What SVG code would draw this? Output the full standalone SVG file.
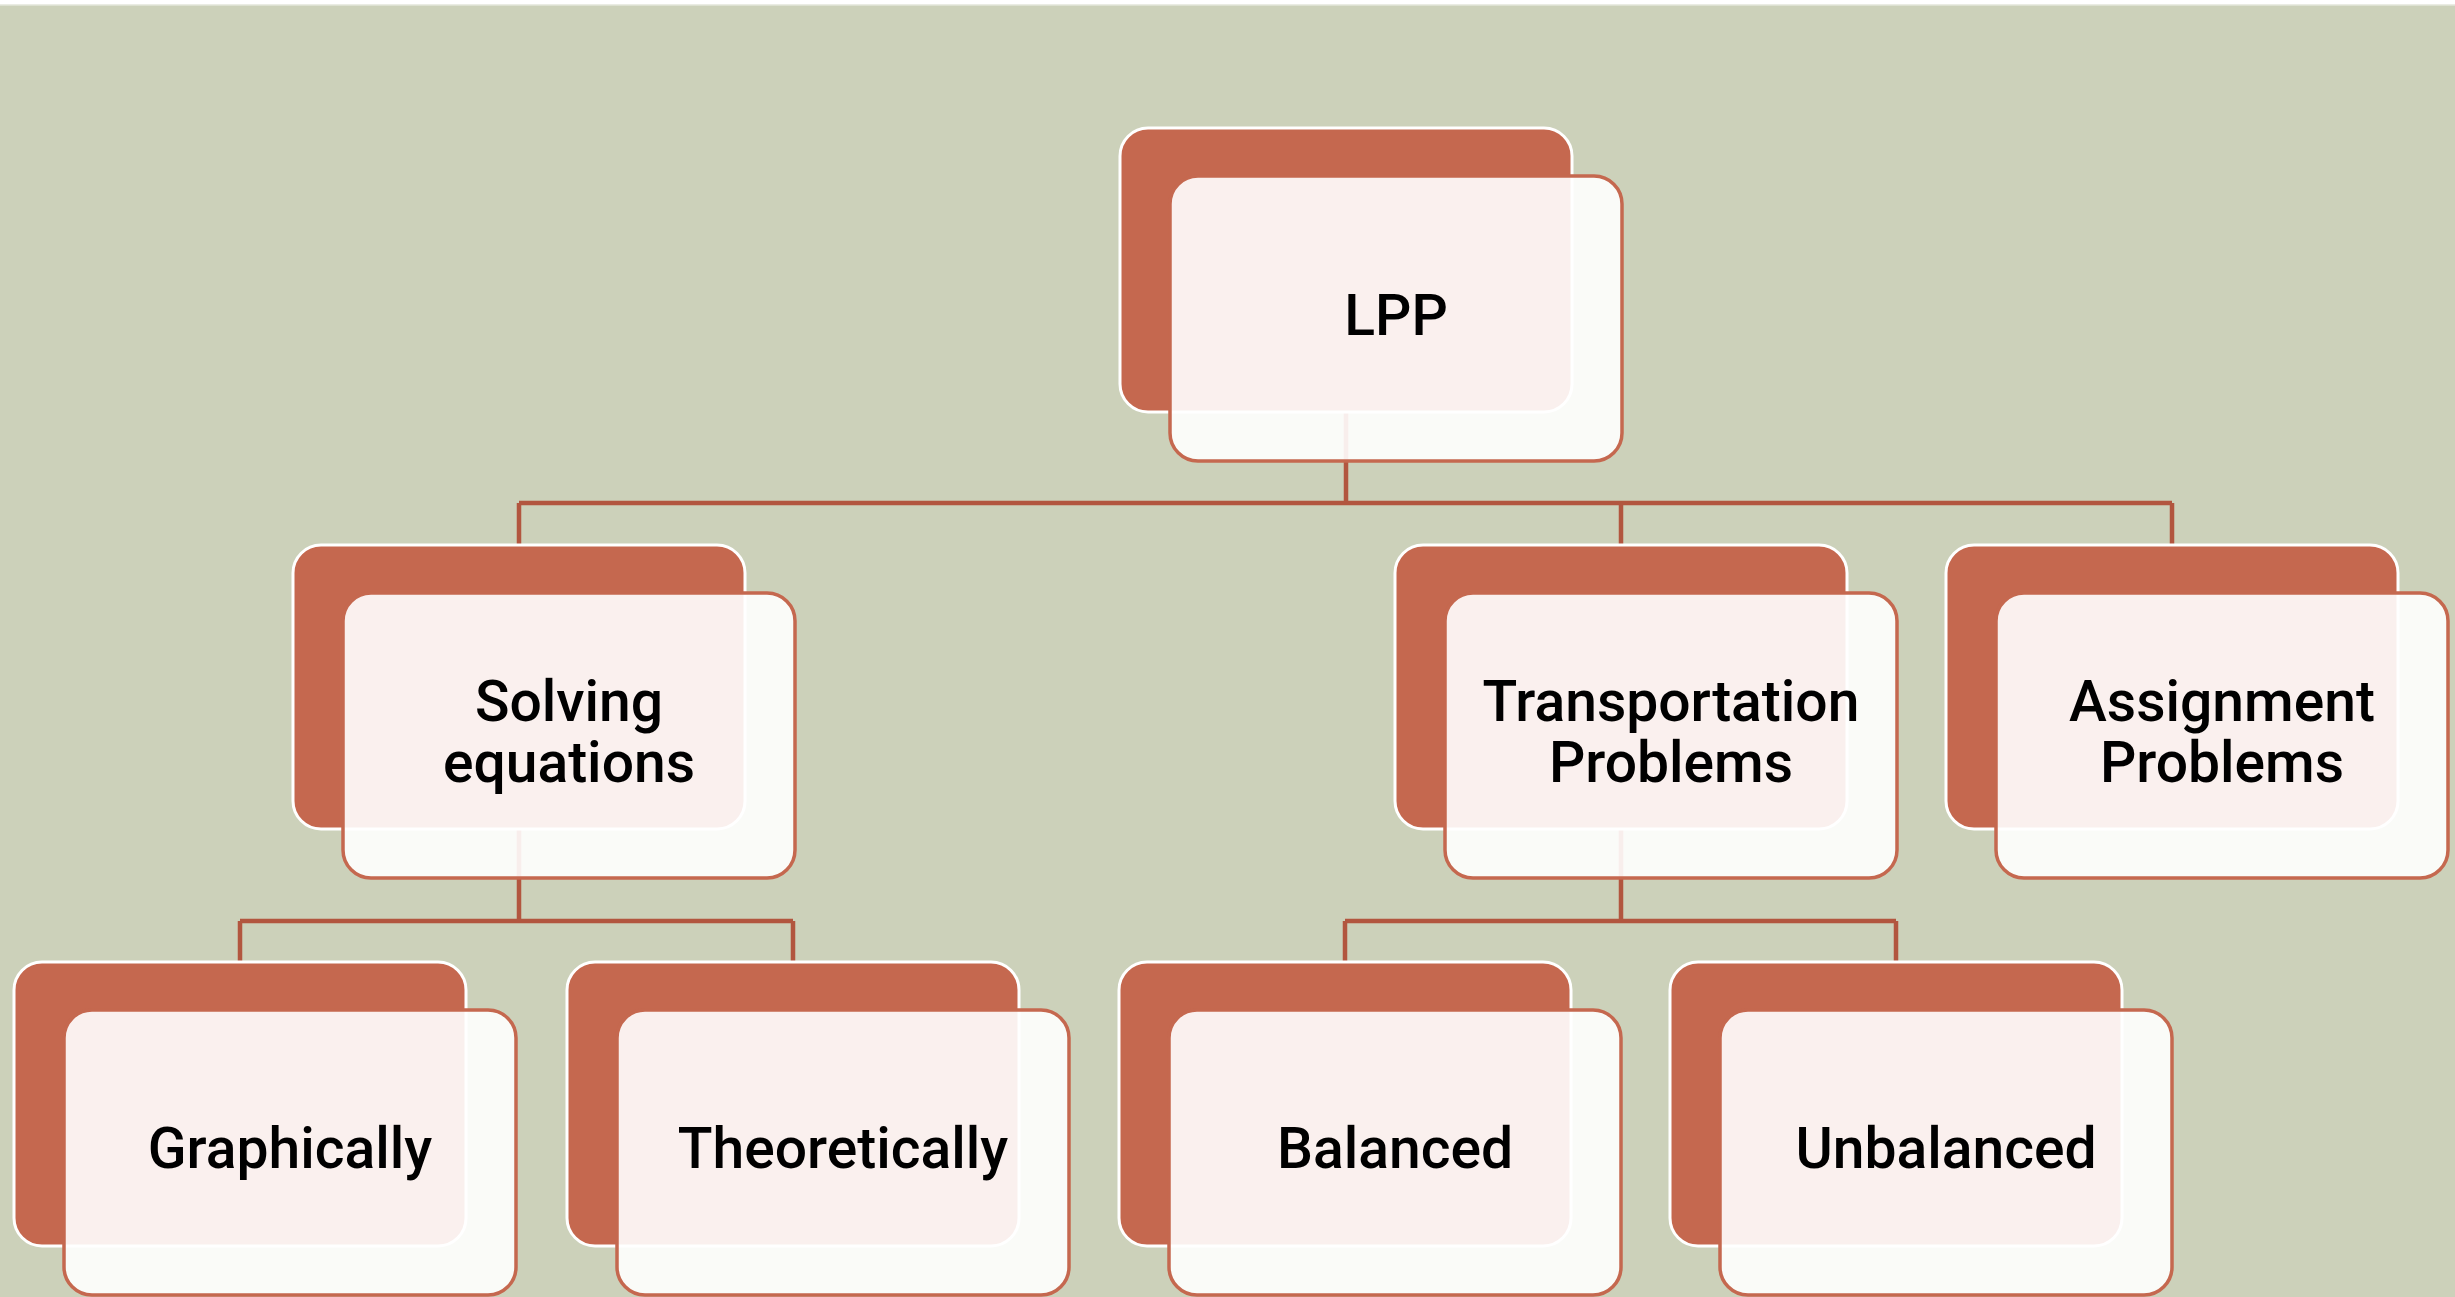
<svg xmlns="http://www.w3.org/2000/svg" width="2455" height="1297" viewBox="0 0 2455 1297">
<style>
.back{fill:#c5684f;stroke:#ffffff;stroke-width:3}
.front{fill:#ffffff;fill-opacity:0.9;stroke:#c5684f;stroke-width:3.5}
.lbl{font-family:Roboto,"Liberation Sans",Arial,sans-serif;font-size:57px;font-weight:500;fill:#000000;text-anchor:middle}
.conn{fill:none;stroke:#b2563f;stroke-width:4.5}
</style>
<rect x="0" y="0" width="2455" height="1297" fill="#ffffff"/>
<rect x="0" y="5" width="2455" height="1292" fill="#ccd1ba"/>
<line x1="0" y1="5" x2="2455" y2="5" stroke="#e3e6da" stroke-width="1.5"/>
<g id="connectors">
<path class="conn" d="M1346 412 V503 M519 503 H2172 M519 503 V545 M1621 503 V545 M2172 503 V545"/>
<path class="conn" d="M519 829 V921 M240 921 H793 M240 921 V962 M793 921 V962"/>
<path class="conn" d="M1621 829 V921 M1345 921 H1896 M1345 921 V962 M1896 921 V962"/>
</g>
<g id="node-lpp">
<rect class="back" x="1120" y="128" width="452" height="284" rx="28"/>
<rect class="front" x="1170" y="176" width="452" height="285" rx="28"/>
<text class="lbl" x="1396" y="335">LPP</text>
</g>
<g id="node-solving">
<rect class="back" x="293" y="545" width="452" height="284" rx="28"/>
<rect class="front" x="343" y="593" width="452" height="285" rx="28"/>
<text class="lbl" x="569" y="721">Solving</text>
<text class="lbl" x="569" y="782">equations</text>
</g>
<g id="node-transportation">
<rect class="back" x="1395" y="545" width="452" height="284" rx="28"/>
<rect class="front" x="1445" y="593" width="452" height="285" rx="28"/>
<text class="lbl" x="1671" y="721">Transportation</text>
<text class="lbl" x="1671" y="782">Problems</text>
</g>
<g id="node-assignment">
<rect class="back" x="1946" y="545" width="452" height="284" rx="28"/>
<rect class="front" x="1996" y="593" width="452" height="285" rx="28"/>
<text class="lbl" x="2222" y="721">Assignment</text>
<text class="lbl" x="2222" y="782">Problems</text>
</g>
<g id="node-graphically">
<rect class="back" x="14" y="962" width="452" height="284" rx="28"/>
<rect class="front" x="64" y="1010" width="452" height="285" rx="28"/>
<text class="lbl" x="290" y="1168">Graphically</text>
</g>
<g id="node-theoretically">
<rect class="back" x="567" y="962" width="452" height="284" rx="28"/>
<rect class="front" x="617" y="1010" width="452" height="285" rx="28"/>
<text class="lbl" x="843" y="1168">Theoretically</text>
</g>
<g id="node-balanced">
<rect class="back" x="1119" y="962" width="452" height="284" rx="28"/>
<rect class="front" x="1169" y="1010" width="452" height="285" rx="28"/>
<text class="lbl" x="1395" y="1168">Balanced</text>
</g>
<g id="node-unbalanced">
<rect class="back" x="1670" y="962" width="452" height="284" rx="28"/>
<rect class="front" x="1720" y="1010" width="452" height="285" rx="28"/>
<text class="lbl" x="1946" y="1168">Unbalanced</text>
</g>
</svg>
